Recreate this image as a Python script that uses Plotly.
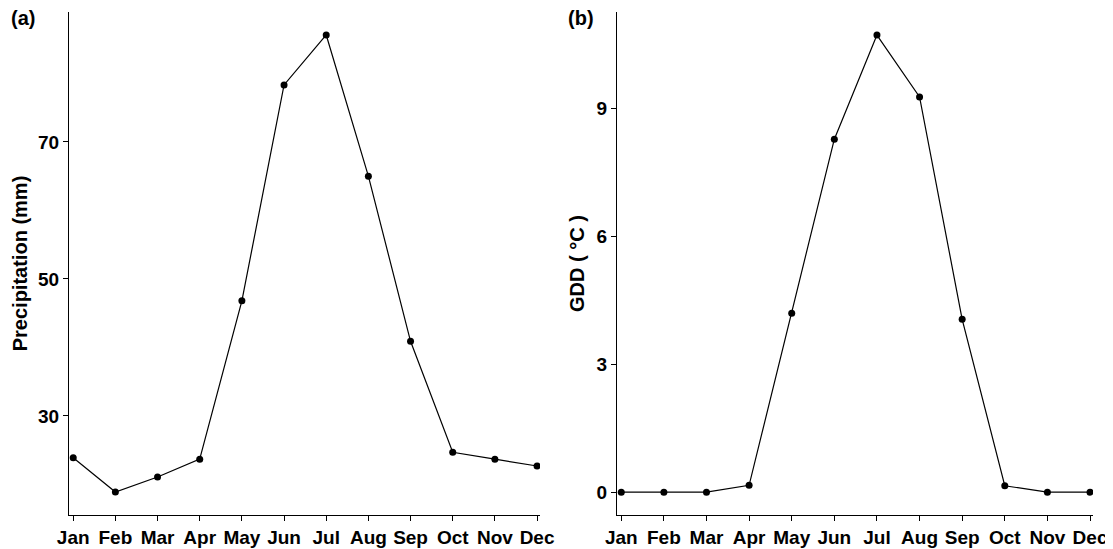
import plotly.graph_objects as go

months = ["Jan", "Feb", "Mar", "Apr", "May", "Jun", "Jul", "Aug", "Sep", "Oct", "Nov", "Dec"]
precip = [23.9, 18.9, 21.1, 23.7, 46.8, 78.3, 85.6, 65.0, 40.9, 24.7, 23.7, 22.7]
gdd = [0.0, 0.0, 0.0, 0.16, 4.19, 8.27, 10.71, 9.26, 4.05, 0.15, 0.0, 0.0]

FONT = "Liberation Sans, Arial, sans-serif"

# The page body has an 8px margin, so the figure is 8px smaller and shifted.
OFF = 8
W, H = 1113 - OFF, 549 - OFF


def px(x):
    return (x - OFF) / W


def py(y):
    return 1 - (y - OFF) / H


fig = go.Figure()
fig.add_trace(go.Scatter(x=list(range(12)), y=precip, mode="lines+markers",
                         line=dict(color="black", width=1.2),
                         marker=dict(color="black", size=7),
                         xaxis="x", yaxis="y", showlegend=False))
fig.add_trace(go.Scatter(x=list(range(12)), y=gdd, mode="lines+markers",
                         line=dict(color="black", width=1.2),
                         marker=dict(color="black", size=7),
                         xaxis="x2", yaxis="y2", showlegend=False))

tickfont = dict(family=FONT, size=19, color="black", weight="bold")
titlefont = dict(family=FONT, size=20, color="black", weight="bold")

common_x = dict(tickmode="array", tickvals=list(range(12)), ticktext=months,
                range=[-0.1, 11.07], showline=True, linecolor="black", linewidth=1.3,
                ticks="outside", ticklen=5, tickcolor="black", tickwidth=1.3,
                showgrid=False, zeroline=False, tickfont=tickfont, automargin=False)
common_y = dict(showline=True, linecolor="black", linewidth=1.3, ticks="outside",
                ticklen=5, tickcolor="black", tickwidth=1.3, showgrid=False,
                zeroline=False, tickfont=tickfont, automargin=False)

ydom = [py(515), py(12)]
fig.update_layout(
    width=W, height=H,
    margin=dict(l=0, r=0, t=0, b=0),
    paper_bgcolor="white", plot_bgcolor="white",
    xaxis=dict(domain=[px(69), px(540)], anchor="y", **common_x),
    yaxis=dict(domain=ydom, anchor="x", range=[15.55, 88.95],
               tickvals=[30, 50, 70],
               title=dict(text="Precipitation (mm)", font=titlefont, standoff=4),
               **common_y),
    xaxis2=dict(domain=[px(617), px(1093)], anchor="y2", **common_x),
    yaxis2=dict(domain=ydom, anchor="x2", range=[-0.535, 11.25],
                tickvals=[0, 3, 6, 9],
                title=dict(text="GDD ( °C )", font=titlefont, standoff=6),
                **common_y),
    annotations=[
        dict(text="(a)", x=px(9), y=py(18), xref="paper", yref="paper",
             xanchor="left", yanchor="middle", showarrow=False, font=titlefont),
        dict(text="(b)", x=px(566), y=py(18), xref="paper", yref="paper",
             xanchor="left", yanchor="middle", showarrow=False, font=titlefont),
    ],
)

fig.write_html("out.html")
